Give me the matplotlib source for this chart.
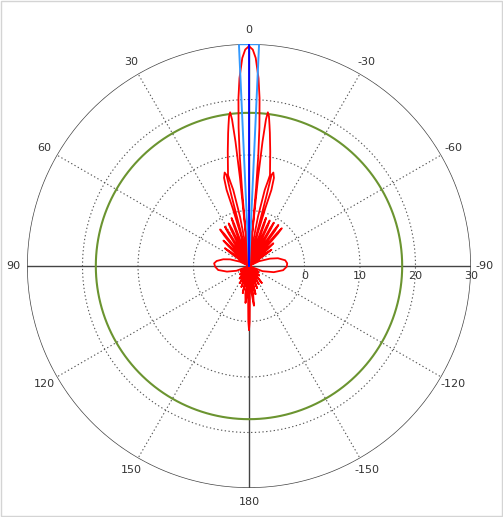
import numpy as np
import matplotlib
matplotlib.use("Agg")
import matplotlib.pyplot as plt

# gain pattern: angle (deg, ccw from top) and value (dB)
red_left_deg = [0, 1.0, 1.85, 2.9, 3.6, 4.3, 4.8, 5.2, 5.5, 5.7,
                5.8, 5.85, 6.2, 6.6, 7.0, 7.6, 8.3, 8.9, 10.5, 12.3, 13.0, 12.5, 11.7, 10.3, 9.5, 9.0,
                13.0, 14.8, 15.8, 16.4, 15.8, 14.6, 13.9, 14.0, 13.6, 13.0,
                17.5, 18.6, 19.4, 20.0, 20.6, 21.3, 22.0,
                23.5, 24.7, 25.5, 26.3, 27.3, 28.5,
                30.0, 30.9, 31.5, 32.2, 33.4, 35.0,
                36.6, 37.5, 38.3, 39.1, 40.3, 42.0,
                43.5, 44.4, 45.2, 46.0, 47.2, 49.0,
                51.0, 52.5, 53.6, 54.8, 56.3, 58.0,
                61.0, 64.5, 70.6, 75.4, 81.2, 85.6, 91.2, 97.4, 104.3, 110.9, 114.0,
                118, 123, 128, 133, 138, 143, 148, 152, 156, 160, 164, 167, 170,
                172.5, 174.6, 176.0, 177.5, 178.5, 179.3, 180]
red_left_db = [29.6, 29.0, 27.5, 23.9, 20.3, 15.0, 10.0, 4.0, -3.0, -10,
               0.0, 6.0, 12.5, 16.6, 17.9, 17.2, 15.6, 14.3, 11.0, 7.8, 6.8, 5.5, 4.0, -1.0, -6.0, -10,
               -10, -4.0, 1.0, 4.3, 6.5, 7.4, 6.9, 3.0, -3.0, -10,
               -10, -5.5, -2.0, -0.8, -2.0, -5.5, -10,
               -6.5, -2.7, -1.5, -2.7, -6.5, -10,
               -6.7, -2.9, -1.7, -2.9, -6.7, -10,
               -6.6, -2.8, -1.6, -2.8, -6.6, -10,
               -7.5, -4.7, -3.5, -4.7, -7.5, -10,
               -8.0, -5.8, -4.6, -5.8, -8.0, -10,
               -10, -8.2, -6.4, -5.2, -4.1, -3.7, -3.9, -4.4, -5.9, -7.6, -10,
               -10, -8.3, -10, -7.8, -10, -7.2, -10, -6.5, -10, -6.0, -10, -5.0, -10,
               -5.0, -3.3, -5.0, -10, -4.0, 0.0, 1.5]

red_right_deg = [0, -1.0, -1.85, -2.9, -3.6, -4.3, -4.8, -5.2, -5.5, -5.7,
                 -5.8, -5.85, -6.2, -6.6, -7.0, -7.6, -8.3, -8.9, -10.5, -12.3, -13.0, -12.5, -11.7, -10.3, -9.5, -9.0,
                 -13.0, -14.8, -15.8, -16.4, -15.8, -14.6, -13.9, -14.0, -13.6, -13.0,
                 -17.5, -18.3, -19.0, -19.5, -20.1, -20.9, -22.0,
                 -23.0, -23.9, -24.5, -25.2, -26.0, -27.0,
                 -28.3, -29.2, -29.8, -30.5, -31.6, -32.7,
                 -34.0, -34.9, -35.6, -36.4, -37.3, -38.3,
                 -39.5, -40.4, -41.0, -41.7, -42.8, -44.0,
                 -45.3, -46.3, -47.0, -47.8, -49.0, -50.5,
                 -51.9, -53.1, -54.0, -54.9, -56.2, -58.0,
                 -61.0, -64.5, -70.6, -75.0, -81.0, -86.0, -91.0, -97.0, -104.0, -111.0, -114.0,
                 -118, -123, -128, -133, -138, -143, -148, -152, -156, -160, -164, -167, -169.5,
                 -171.5, -172.9, -174.5, -177.0, -178.5, -179.3, -180]
red_right_db = [29.6, 29.0, 27.5, 23.9, 20.3, 15.0, 10.0, 4.0, -3.0, -10,
                0.0, 6.0, 12.5, 16.6, 17.9, 17.2, 15.6, 14.3, 11.0, 7.8, 6.8, 5.5, 4.0, -1.0, -6.0, -10,
                -10, -4.0, 1.0, 4.3, 6.5, 7.4, 6.9, 3.0, -3.0, -10,
                -10, -5.5, -2.0, -0.8, -2.0, -5.5, -10,
                -6.0, -2.2, -1.0, -2.2, -6.0, -10,
                -6.0, -2.2, -1.0, -2.2, -6.0, -10,
                -5.9, -2.1, -0.9, -2.1, -5.9, -10,
                -6.0, -2.2, -1.0, -2.2, -6.0, -10,
                -7.0, -5.2, -4.0, -5.2, -7.0, -10,
                -8.0, -6.2, -5.0, -6.2, -8.0, -10,
                -10, -8.0, -6.0, -4.6, -3.4, -3.1, -3.2, -3.8, -5.4, -7.4, -10,
                -10, -8.0, -10, -7.5, -10, -6.2, -10, -6.3, -10, -5.8, -10, -4.8, -10,
                -5.0, -2.8, -5.0, -10, -4.0, 0.0, 1.5]

# flat-top beam (light blue) and beam axis (dark blue)
beam_deg = [2.6, 2.6, -2.6, -2.6]
beam_db = [-10, 30, 30, -10]
axis_deg = [0, 0]
axis_db = [-10, 30]

green_level = 17.6

angle_ticks = [0, 30, 60, 90, 120, 150, 180, -150, -120, -90, -60, -30]
r_ticks = [-10, 0, 10, 20, 30]
r_min, r_max = -10, 30

fig = plt.figure(figsize=(5.03, 5.17), dpi=100)
ax = fig.add_axes([27 / 503, 29 / 517, 444 / 503, 444 / 517], projection='polar')
ax.set_theta_zero_location('N')
ax.set_theta_direction(1)
ax.set_ylim(r_min, r_max)
ax.grid(False)
ax.set_xticks([])
ax.set_yticks([])
ax.spines['polar'].set_visible(False)
ax.patch.set_alpha(0)

full = np.linspace(0, 2 * np.pi, 721)
# dotted rings
for r in [0, 10, 20]:
    ax.plot(full, np.full_like(full, r), color='#555555', lw=0.8,
            linestyle=(0, (1.2, 2.2)), zorder=1)
ax.plot(full, np.full_like(full, r_max), color='#444444', lw=1.0, zorder=1)

# spokes
for a in range(0, 360, 30):
    t = np.deg2rad(a)
    if a % 90 == 0:
        ax.plot([t, t], [r_min, r_max], color='#444444', lw=1.0, zorder=1)
    else:
        ax.plot([t, t], [r_min, r_max], color='#555555', lw=0.8,
                linestyle=(0, (1.2, 2.2)), zorder=1)

# angle labels
for a in angle_ticks:
    ax.text(np.deg2rad(a), 32.5, str(a), ha='center', va='center',
            fontsize=8, color='#333333', clip_on=False)

# radial labels along the right axis
for r in r_ticks:
    ax.annotate(str(r), xy=(np.deg2rad(-90), r), xytext=(0, -10),
                textcoords='offset pixels', ha='center', va='center',
                fontsize=8, color='#333333', zorder=1.5)

ax.plot(full, np.full_like(full, green_level), color='#6b9430', lw=1.5, zorder=2)
ax.plot(np.deg2rad(red_left_deg), red_left_db, color='#ff0000', lw=1.3, zorder=3)
ax.plot(np.deg2rad(red_right_deg), red_right_db, color='#ff0000', lw=1.3, zorder=3)
ax.plot(np.deg2rad(beam_deg), beam_db, color='#3399ff', lw=1.4, zorder=4)
ax.plot(np.deg2rad(axis_deg), axis_db, color='#0000ff', lw=1.3, zorder=5)

border = plt.Rectangle((0.002, 0.002), 0.996, 0.996, transform=fig.transFigure,
                       fill=False, edgecolor='#d4d4d4', lw=1.0)
fig.patches.append(border)

fig.savefig('out.png', dpi=100)
